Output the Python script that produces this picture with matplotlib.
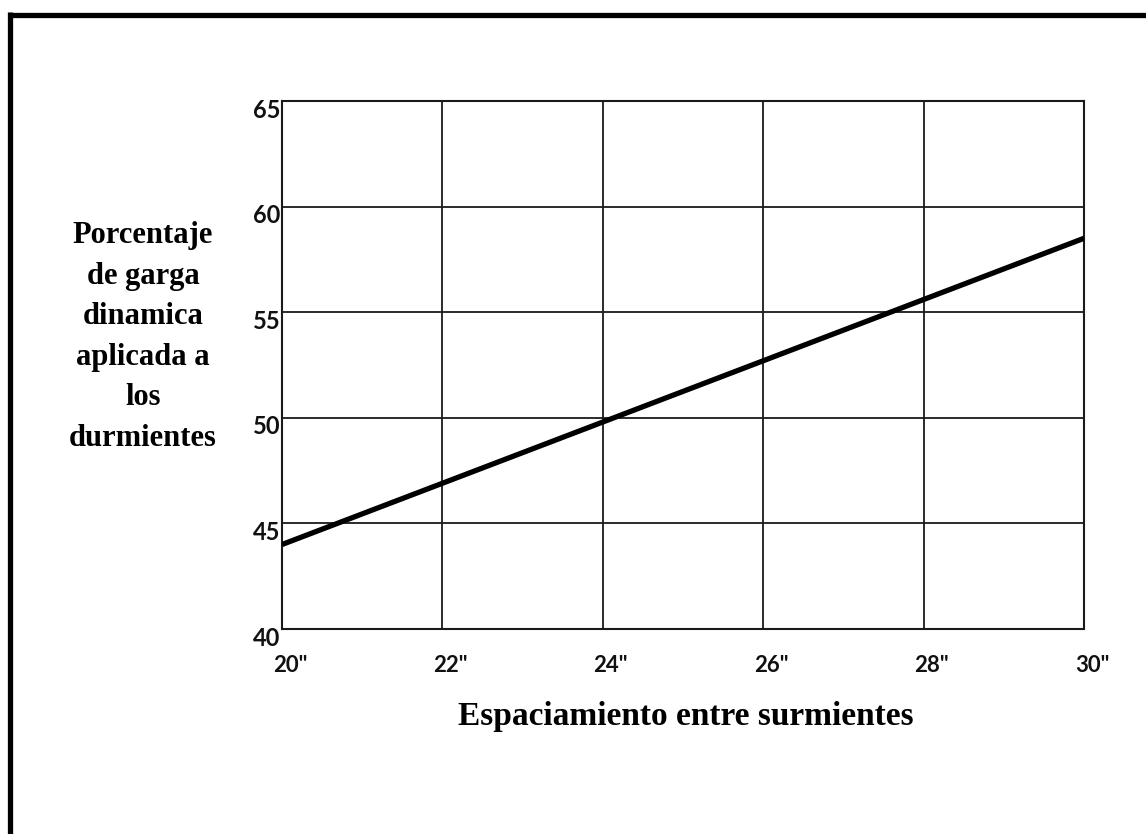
import matplotlib
matplotlib.use("Agg")
import matplotlib.pyplot as plt
from matplotlib.lines import Line2D
import matplotlib.transforms as mtransforms

# Data
spacing = [20, 30]          # espaciamiento (pulgadas)
percent = [44.0, 58.5]      # porcentaje de carga dinámica
x_ticks = [20, 22, 24, 26, 28, 30]
x_tick_labels = ['20"', '22"', '24"', '26"', '28"', '30"']
y_ticks = [40, 45, 50, 55, 60, 65]
y_tick_labels = ['40', '45', '50', '55', '60', '65']

W, H = 1146, 834
fig = plt.figure(figsize=(W / 100, H / 100), dpi=100)
fig.patch.set_facecolor("white")

ax = fig.add_axes([282 / W, 1 - 629 / H, (1084 - 282) / W, (629 - 101) / H])
ax.plot(spacing, percent, color="black", linewidth=3.8, solid_capstyle="butt", zorder=3)

ax.set_xlim(20, 30)
ax.set_ylim(40, 65)
ax.set_xticks(x_ticks)
ax.set_yticks(y_ticks)
ax.grid(True, color="#1a1a1a", linewidth=1.3)
ax.set_axisbelow(True)
for s in ax.spines.values():
    s.set_color("#1a1a1a")
    s.set_linewidth(1.5)

ax.tick_params(axis="both", length=0)
ax.set_xticklabels(x_tick_labels, fontfamily="Lato", fontweight="bold", fontsize=16, color="#111")
ax.set_yticklabels(y_tick_labels, fontfamily="Lato", fontweight="bold", fontsize=17, color="#111")
ax.tick_params(axis="x", pad=19)
ax.tick_params(axis="y", pad=1)
offset = mtransforms.ScaledTranslation(8 / 100, 0, fig.dpi_scale_trans)
for lbl in ax.get_xticklabels():
    lbl.set_transform(lbl.get_transform() + offset)
offy = mtransforms.ScaledTranslation(0, -7 / 100, fig.dpi_scale_trans)
for lbl in ax.get_yticklabels():
    lbl.set_transform(lbl.get_transform() + offy)

fig.text(686 / W, 1 - 717 / H, "Espaciamiento entre surmientes",
         ha="center", va="center", fontfamily="Liberation Serif",
         fontweight="bold", fontsize=24)

fig.text(143 / W, 1 - 337 / H,
         "Porcentaje\nde garga\ndinamica\naplicada a\nlos\ndurmientes",
         ha="center", va="center", multialignment="center",
         fontfamily="Liberation Serif", fontweight="bold", fontsize=22,
         linespacing=1.53)

# Frame (top and left edges visible)
fig.add_artist(Line2D([8 / W, 1.0], [1 - 14.5 / H, 1 - 14.5 / H],
                      transform=fig.transFigure, color="black", linewidth=3.8,
                      solid_capstyle="butt"))
fig.add_artist(Line2D([9.5 / W, 9.5 / W], [1 - 12 / H, 0.0],
                      transform=fig.transFigure, color="black", linewidth=3.8,
                      solid_capstyle="butt"))

fig.savefig("out.png", dpi=100, facecolor="white")
